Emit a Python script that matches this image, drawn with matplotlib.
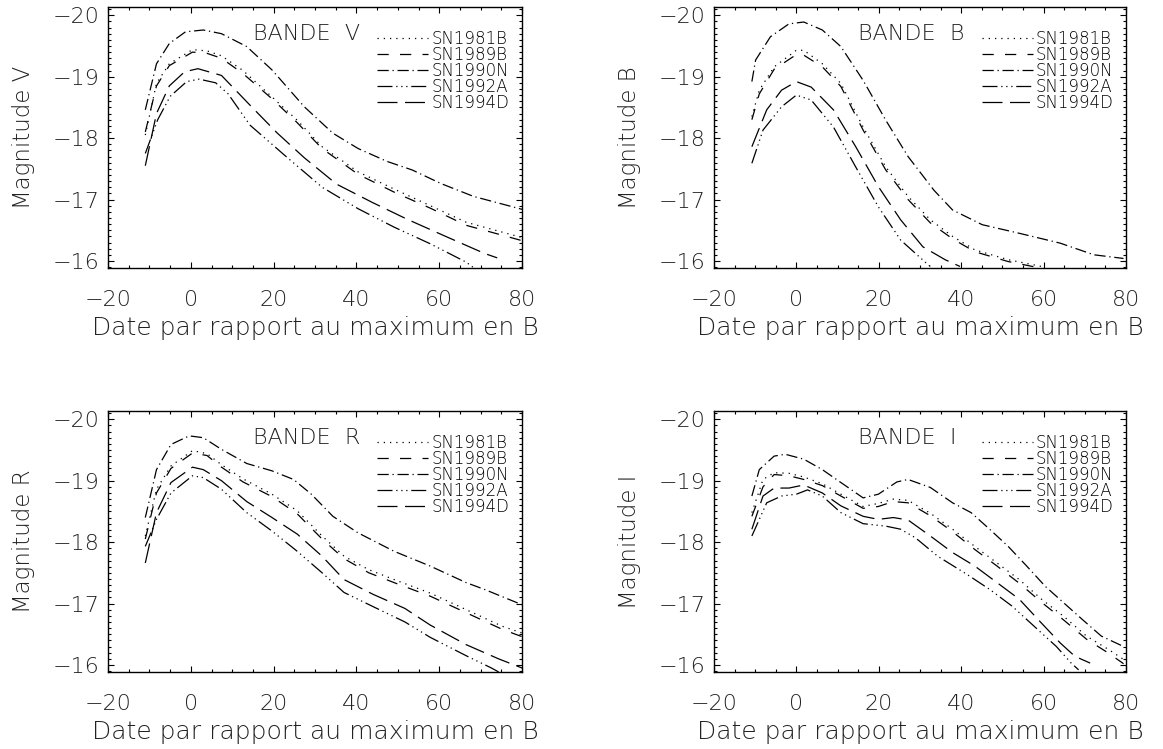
import matplotlib
matplotlib.use("Agg")
import matplotlib.pyplot as plt
from matplotlib.ticker import MultipleLocator

plt.rcParams['font.family'] = ['DejaVu Sans']
plt.rcParams['font.weight'] = 'light'
plt.rcParams['axes.labelweight'] = 'light'

# supernova names and IDL-like line styles (dotted, dashed, dash-dot, dash-3dots, long dashes)
names = ['SN1981B', 'SN1989B', 'SN1990N', 'SN1992A', 'SN1994D']
styles = [(0, (1, 4)), (0, (9, 9)), (0, (9, 3, 1, 3)),
          (0, (12, 3, 1, 3, 1, 3, 1, 3)), (0, (16, 6))]

# ---- bande V ----
v_81b_t = [-11, -8.3, -5.2, 0.4, 3.9, 7.4, 12.6, 19.6, 25.7, 31.7, 40.4, 49.1, 57.8, 66.5, 80]
v_81b_m = [-18.05, -18.89, -19.21, -19.44, -19.42, -19.34, -19.10, -18.67, -18.29, -17.86, -17.45, -17.17, -16.90, -16.63, -16.38]
v_89b_t = [-11, -8.3, -5.2, 0.4, 3.9, 7.4, 12.6, 19.6, 25.7, 31.7, 40.4, 49.1, 57.8, 66.5, 80]
v_89b_m = [-18.10, -18.85, -19.18, -19.40, -19.38, -19.30, -19.05, -18.64, -18.25, -17.83, -17.41, -17.12, -16.86, -16.58, -16.33]
v_90n_t = [-11, -8.3, -5.2, -1.3, 3, 7.4, 13.5, 19.6, 27.4, 34.3, 40.4, 47.4, 53.5, 60.4, 68.3, 80]
v_90n_m = [-18.46, -19.21, -19.54, -19.73, -19.76, -19.70, -19.49, -19.11, -18.51, -18.08, -17.83, -17.62, -17.48, -17.26, -17.05, -16.84]
v_92a_t = [-11, -8, -5, -1, 2, 6, 9, 14.3, 23, 31.7, 40.4, 49.1, 57.8, 66.5, 68.5]
v_92a_m = [-17.75, -18.30, -18.68, -18.92, -18.96, -18.90, -18.72, -18.21, -17.70, -17.20, -16.85, -16.55, -16.28, -15.98, -15.88]
v_94d_t = [-11, -8.3, -5.2, -1.5, 1.7, 7.4, 14.8, 20.9, 27.4, 35.2, 43.9, 52.2, 62.2, 71, 74]
v_94d_m = [-17.55, -18.40, -18.85, -19.08, -19.13, -19.02, -18.50, -18.08, -17.68, -17.25, -16.95, -16.68, -16.38, -16.12, -16.05]

# ---- bande B ----
b_81b_t = [-10.8, -9, -5.4, 0, 1.8, 6.3, 10.8, 16.2, 21.7, 27.1, 32.5, 37.9, 43.3, 51.4, 59.5]
b_81b_m = [-18.35, -18.78, -19.16, -19.43, -19.43, -19.21, -18.89, -18.18, -17.53, -17.05, -16.67, -16.40, -16.18, -16.02, -15.91]
b_89b_t = [-10.8, -9, -5.4, 0, 1.8, 6.3, 10.8, 16.2, 21.7, 27.1, 32.5, 37.9, 43.3, 51.4, 59.5]
b_89b_m = [-18.30, -18.72, -19.12, -19.36, -19.35, -19.16, -18.84, -18.13, -17.48, -17.00, -16.62, -16.36, -16.15, -15.99, -15.88]
b_90n_t = [-10.8, -9.9, -6.3, -1.8, 1.8, 6.3, 10.8, 16.2, 21.7, 27.1, 33.4, 37.9, 45.1, 54.1, 64, 72.2, 79.4]
b_90n_m = [-18.92, -19.27, -19.65, -19.86, -19.89, -19.76, -19.49, -18.94, -18.29, -17.70, -17.15, -16.83, -16.59, -16.45, -16.29, -16.10, -16.04]
b_92a_t = [-10.8, -8.1, -3.6, 0, 3.6, 9, 14.4, 19.9, 25.3, 31.6, 32.5]
b_92a_m = [-17.59, -18.13, -18.51, -18.70, -18.62, -18.18, -17.53, -16.88, -16.34, -15.96, -15.91]
b_94d_t = [-10.8, -7.2, -3.6, 0, 3.6, 9, 14.4, 19.9, 25.3, 30.7, 36.1, 39.7]
b_94d_m = [-17.86, -18.46, -18.78, -18.92, -18.83, -18.46, -17.86, -17.21, -16.67, -16.23, -16.02, -15.91]

# ---- bande R ----
r_81b_t = [-11, -8.3, -4.8, 0.4, 3.9, 7.4, 12.6, 19.6, 25.7, 31.7, 37, 43, 49.1, 57.8, 66.5, 75.2, 80]
r_81b_m = [-18.10, -18.86, -19.24, -19.49, -19.44, -19.26, -19.03, -18.78, -18.51, -18.10, -17.77, -17.55, -17.39, -17.17, -16.90, -16.63, -16.52]
r_89b_t = [-11, -8.3, -4.8, 0.4, 3.9, 7.4, 12.6, 19.6, 25.7, 31.7, 37, 43, 49.1, 57.8, 66.5, 75.2, 80]
r_89b_m = [-18.05, -18.80, -19.20, -19.45, -19.41, -19.22, -18.98, -18.74, -18.46, -18.05, -17.73, -17.50, -17.34, -17.12, -16.85, -16.58, -16.46]
r_90n_t = [-11, -8.3, -4.8, -0.4, 3, 7.4, 13.5, 19.6, 24.8, 29.1, 34.3, 40.4, 49.1, 57.8, 66.5, 70.9, 80]
r_90n_m = [-18.40, -19.18, -19.59, -19.73, -19.70, -19.51, -19.28, -19.16, -19.02, -18.78, -18.42, -18.15, -17.85, -17.61, -17.34, -17.23, -16.98]
r_92a_t = [-11, -8.3, -4.8, 0.4, 3, 7.4, 13.5, 19.6, 25.7, 31.7, 37, 44, 51.7, 57.8, 66.5, 72.6, 74.5]
r_92a_m = [-17.93, -18.37, -18.80, -19.08, -19.05, -18.86, -18.48, -18.18, -17.85, -17.50, -17.18, -16.95, -16.70, -16.45, -16.15, -15.95, -15.88]
r_94d_t = [-11, -8.3, -4.8, 0.4, 3, 7.4, 13.5, 19.6, 25.7, 31.7, 37, 44, 51.7, 57.8, 66.5, 74.3, 80]
r_94d_m = [-17.66, -18.48, -18.97, -19.22, -19.18, -19.00, -18.66, -18.40, -18.13, -17.77, -17.39, -17.15, -16.92, -16.65, -16.33, -16.10, -15.95]

# ---- bande I ----
i_81b_t = [-10.8, -8.1, -5.4, -1.8, 1.8, 6.3, 10.8, 16.2, 19.9, 23.5, 27.1, 32.5, 37.9, 43.3, 48.7, 54.1, 59.5, 64.9, 70.4, 75.8, 79.4]
i_81b_m = [-18.48, -19.02, -19.13, -19.12, -19.06, -18.95, -18.78, -18.58, -18.63, -18.70, -18.68, -18.47, -18.21, -17.93, -17.66, -17.39, -17.07, -16.79, -16.47, -16.25, -16.09]
i_89b_t = [-10.8, -8.1, -5.4, -1.8, 1.8, 6.3, 10.8, 16.2, 19.9, 23.5, 27.1, 32.5, 37.9, 43.3, 48.7, 54.1, 59.5, 64.9, 70.4, 75.8, 79.4]
i_89b_m = [-18.42, -18.90, -19.10, -19.08, -19.02, -18.92, -18.75, -18.55, -18.58, -18.66, -18.64, -18.43, -18.17, -17.88, -17.61, -17.33, -17.02, -16.73, -16.42, -16.19, -16.02]
i_90n_t = [-10.8, -9, -5.4, -2.7, 1.8, 6.3, 10.8, 16.2, 19.9, 24.4, 27.1, 32.5, 37.9, 42.4, 46.9, 51.4, 55.9, 60.4, 64.9, 69.4, 74, 79.4]
i_90n_m = [-18.75, -19.18, -19.40, -19.43, -19.35, -19.18, -18.97, -18.72, -18.78, -18.98, -19.02, -18.89, -18.64, -18.48, -18.21, -17.93, -17.61, -17.28, -17.01, -16.74, -16.47, -16.30]
i_92a_t = [-10.8, -7.2, -3.6, 0, 2.7, 6.3, 10.8, 16.2, 21.7, 25.3, 28.9, 34.3, 41.5, 46.9, 52.3, 57.7, 63.1, 66.7, 68.5]
i_92a_m = [-18.10, -18.64, -18.75, -18.78, -18.85, -18.75, -18.48, -18.30, -18.26, -18.21, -18.07, -17.77, -17.47, -17.23, -16.96, -16.63, -16.30, -16.03, -15.92]
i_94d_t = [-10.8, -8.1, -5.4, -1.8, 1.8, 6.3, 10.8, 16.2, 19.9, 23.5, 27.1, 32.5, 37.9, 43.3, 48.7, 54.1, 59.5, 64, 67.6, 71.3]
i_94d_m = [-18.21, -18.75, -18.88, -18.88, -18.93, -18.80, -18.59, -18.42, -18.37, -18.40, -18.36, -18.10, -17.83, -17.61, -17.34, -17.07, -16.68, -16.36, -16.14, -16.03]

panels = [
    ('V', [0.0929, 0.6422, 0.356, 0.3485],
     [(v_81b_t, v_81b_m), (v_89b_t, v_89b_m), (v_90n_t, v_90n_m), (v_92a_t, v_92a_m), (v_94d_t, v_94d_m)]),
    ('B', [0.6139, 0.6422, 0.3543, 0.3485],
     [(b_81b_t, b_81b_m), (b_89b_t, b_89b_m), (b_90n_t, b_90n_m), (b_92a_t, b_92a_m), (b_94d_t, b_94d_m)]),
    ('R', [0.0929, 0.1028, 0.356, 0.3485],
     [(r_81b_t, r_81b_m), (r_89b_t, r_89b_m), (r_90n_t, r_90n_m), (r_92a_t, r_92a_m), (r_94d_t, r_94d_m)]),
    ('I', [0.6139, 0.1028, 0.3543, 0.3485],
     [(i_81b_t, i_81b_m), (i_89b_t, i_89b_m), (i_90n_t, i_90n_m), (i_92a_t, i_92a_m), (i_94d_t, i_94d_m)]),
]

txt = '#222222'
fig = plt.figure(figsize=(11.63, 7.49), dpi=100)

for band, pos, curves in panels:
    ax = fig.add_axes(pos)
    for (t, m), name, ls in zip(curves, names, styles):
        ax.plot(t, m, color='black', lw=0.9, linestyle=ls, label=name)
    ax.set_xlim(-20, 80)
    ax.set_ylim(-15.885, -20.135)
    ax.xaxis.set_major_locator(MultipleLocator(20))
    ax.xaxis.set_minor_locator(MultipleLocator(5))
    ax.yaxis.set_major_locator(MultipleLocator(1))
    ax.yaxis.set_minor_locator(MultipleLocator(0.1))
    ax.tick_params(which='both', direction='in', top=True, right=True, colors='black',
                   labelcolor=txt, labelsize=16)
    ax.tick_params(which='major', length=4.3, width=0.8)
    ax.tick_params(which='minor', length=2.2, width=0.8)
    ax.tick_params(axis='x', pad=16)
    ax.tick_params(axis='y', pad=6)
    for s in ax.spines.values():
        s.set_linewidth(1.0)
    ax.set_xlabel('Date par rapport au maximum en B', fontsize=18, color=txt, labelpad=4.5)
    ax.set_ylabel('Magnitude ' + band, fontsize=16.5, color=txt, labelpad=13)
    ax.text(0.35, 0.895, 'BANDE  ' + band, transform=ax.transAxes, fontsize=16,
            color=txt, ha='left', va='center')
    ax.legend(loc='upper left', bbox_to_anchor=(0.65, 0.912), frameon=False,
              fontsize=12, handlelength=3.05, handletextpad=0.2, borderpad=0,
              borderaxespad=0, labelspacing=-0.12)

fig.savefig('out.png', dpi=100)
